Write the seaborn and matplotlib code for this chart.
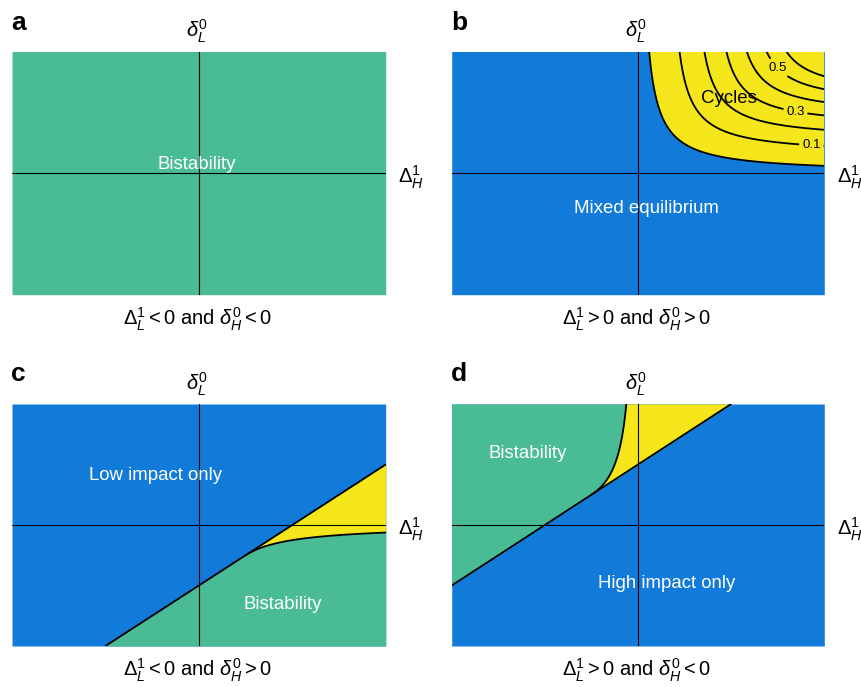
import numpy as np
import matplotlib
matplotlib.use("Agg")
import matplotlib.pyplot as plt
import seaborn as sns

sns.set_style("white")
plt.rcParams["font.family"] = ["Liberation Sans", "DejaVu Sans"]
plt.rcParams["text.color"] = "black"
plt.rcParams["mathtext.fontset"] = "custom"
plt.rcParams["mathtext.rm"] = "Liberation Sans"
plt.rcParams["mathtext.it"] = "Liberation Sans:italic"
plt.rcParams["mathtext.bf"] = "Liberation Sans:bold"

GREEN = "#49BC96"
BLUE = "#127BDA"
YELLOW = "#F4E61B"

# ---------------- data ----------------
panel_letters = ["a", "b", "c", "d"]
top_label = r"$\delta_L^0$"
right_label = r"$\Delta_H^1$"
bottom_labels = [
    r"$\Delta_L^1 < 0$ and $\delta_H^0 < 0$",
    r"$\Delta_L^1 > 0$ and $\delta_H^0 > 0$",
    r"$\Delta_L^1 < 0$ and $\delta_H^0 > 0$",
    r"$\Delta_L^1 > 0$ and $\delta_H^0 < 0$",
]

# boundary line  y = slope * x + intercept   (panels c, d)
line_slope = 1.0
line_intercept_c = -0.5
line_intercept_d = 0.5
# cycles boundary  x * y = hyper_k  (panels c, d), tangent to the line
hyper_k = -0.0625
tangent_x_c = 0.25
tangent_x_d = -0.25
# panel b: cycle amplitude  f = a*s + b*s^2,  s = soft-min(x, y)
cycle_eps = 0.24
cycle_coef = [0.565, 0.605]
plain_levels = [0.0, 0.2, 0.4, 0.6]
labeled_levels = [0.1, 0.3, 0.5]
label_spots = [(0.93, 0.215), (0.84, 0.463), (0.69, 0.77)]

# region labels: panel, text, x, y, colour
region_texts = [
    (0, "Bistability", -0.01, 0.07, "white"),
    (1, "Mixed equilibrium", 0.045, -0.29, "white"),
    (1, "Cycles", 0.49, 0.61, "black"),
    (2, "Low impact only", -0.23, 0.41, "white"),
    (2, "Bistability", 0.45, -0.66, "white"),
    (3, "Bistability", -0.59, 0.59, "white"),
    (3, "High impact only", 0.155, -0.48, "white"),
]

# ---------------- figure ----------------
W, H = 861, 687
fig = plt.figure(figsize=(W / 100, H / 100), dpi=100)

def rect(l, t, r, b):
    return [l / W, 1 - b / H, (r - l) / W, (b - t) / H]

rects = [
    rect(12, 51.5, 385.7, 294.7),
    rect(451.7, 51.5, 824.3, 294.7),
    rect(12, 404, 385.7, 646),
    rect(451.7, 404, 824.3, 646),
]
letter_pos = [(11.5, 29.5), (451, 29.5), (11.5, 381), (451, 381)]

axes = [fig.add_axes(r) for r in rects]
x = np.linspace(-1, 1, 1201)
LW = 1.3
LABEL_FS = 14.5
REGION_FS = 13.4

for i, ax in enumerate(axes):
    ax.set_xlim(-1, 1)
    ax.set_ylim(-1, 1)
    for s in ax.spines.values():
        s.set_visible(False)
    ax.set_xticks([])
    ax.set_yticks([])

    if i == 0:
        ax.fill_between(x, -1, 1, color=GREEN, lw=0)
    elif i == 1:
        ax.fill_between(x, -1, 1, color=BLUE, lw=0)
        g = np.linspace(-1, 1, 700)
        X, Y = np.meshgrid(g, g)
        S = (X + Y - np.sqrt((X - Y) ** 2 + cycle_eps)) / 2
        F = cycle_coef[0] * S + cycle_coef[1] * np.maximum(S, 0) ** 2
        ax.contourf(X, Y, F, levels=[0, 10], colors=[YELLOW])
        ax.contour(X, Y, F, levels=plain_levels, colors="black", linewidths=LW)
        cs = ax.contour(X, Y, F, levels=labeled_levels, colors="black",
                        linewidths=LW)
        ax.clabel(cs, fmt="%.1f", fontsize=9.5, inline=True,
                  inline_spacing=3, manual=label_spots)
        for t in cs.labelTexts:
            t.set_rotation(0)
            t.set_color("black")
    elif i == 2:
        ax.fill_between(x, -1, 1, color=BLUE, lw=0)
        line = line_slope * x + line_intercept_c
        ax.fill_between(x, -1, np.clip(line, -1, 1), color=GREEN, lw=0)
        xs = np.linspace(tangent_x_c, 1, 600)
        curve = hyper_k / xs
        ax.fill_between(xs, curve, np.clip(line_slope * xs + line_intercept_c, -1, 1),
                        color=YELLOW, lw=0)
        m = (line >= -1) & (line <= 1)
        sns.lineplot(x=x[m], y=line[m], ax=ax, color="black", lw=LW,
                     estimator=None, sort=False)
        sns.lineplot(x=xs, y=curve, ax=ax, color="black", lw=LW,
                     estimator=None, sort=False)
    else:
        ax.fill_between(x, -1, 1, color=BLUE, lw=0)
        line = line_slope * x + line_intercept_d
        ax.fill_between(x, np.clip(line, -1, 1), 1, color=GREEN, lw=0)
        xs = np.linspace(tangent_x_d, (1 - line_intercept_d) / line_slope, 800)
        upper = np.divide(hyper_k, xs, out=np.full_like(xs, np.inf), where=xs < 0)
        upper = np.clip(upper, None, 1)
        ax.fill_between(xs, line_slope * xs + line_intercept_d, upper,
                        color=YELLOW, lw=0)
        xc = np.linspace(tangent_x_d, hyper_k / 1.0, 600)
        m = (line >= -1) & (line <= 1)
        sns.lineplot(x=x[m], y=line[m], ax=ax, color="black", lw=LW,
                     estimator=None, sort=False)
        sns.lineplot(x=xc, y=hyper_k / xc, ax=ax, color="black", lw=LW,
                     estimator=None, sort=False)

    ax.axhline(0, color="black", lw=0.8, zorder=3)
    ax.axvline(0, color="black", lw=0.8, zorder=3)

    # axis labels
    ax.annotate(top_label, xy=(0, 1), xycoords=("data", "axes fraction"),
                xytext=(-1.5, 4.5), textcoords="offset points",
                ha="center", va="bottom", fontsize=LABEL_FS, color="black")
    ax.annotate(right_label, xy=(1, 0), xycoords=("axes fraction", "data"),
                xytext=(9, -3), textcoords="offset points",
                ha="left", va="center", fontsize=LABEL_FS, color="black")
    ax.annotate(bottom_labels[i], xy=(0.5, 0), xycoords="axes fraction",
                xytext=(-1, -7.5), textcoords="offset points",
                ha="center", va="top", fontsize=LABEL_FS, color="black")

    lx, ly = letter_pos[i]
    fig.text(lx / W, 1 - ly / H, panel_letters[i], fontsize=19,
             fontweight="bold", ha="left", va="baseline", color="black")

for p, txt, tx, ty, col in region_texts:
    axes[p].text(tx, ty, txt, color=col, fontsize=REGION_FS, ha="center",
                 va="center", zorder=5)

fig.savefig("out.png", dpi=100)
